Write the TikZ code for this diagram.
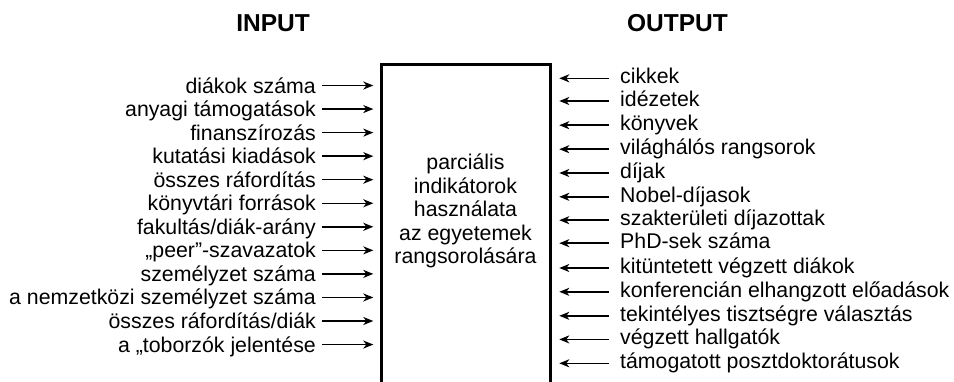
\documentclass[tikz,border=0pt]{standalone}
\usepackage{fontspec}
\setmainfont{Liberation Sans}
\usetikzlibrary{arrows.meta}

\tikzset{
  inlabel/.style={anchor=east,inner xsep=0pt,text height=19.5pt,text depth=4.5pt,
                  font=\fontsize{21.3}{24}\selectfont},
  outlabel/.style={anchor=west,inner xsep=0pt,text height=15.3pt,text depth=4.5pt,
                   font=\fontsize{21.3}{24}\selectfont},
  headline/.style={anchor=base,font=\fontsize{24.5}{29}\selectfont\bfseries},
  inarrow/.style={line width=1.5pt,-{Stealth[length=10pt,width=8pt,inset=3pt]},shorten <=6pt},
  outarrow/.style={line width=1.5pt,-{Stealth[length=10pt,width=8pt,inset=3pt]},shorten <=11pt},
  rankbox/.style={draw,line width=3pt,minimum width=169pt,minimum height=328pt,inner sep=0pt}
}

\begin{document}
\begin{tikzpicture}[x=1pt,y=-1pt]
\useasboundingbox (0,0) rectangle (954,381);

\node[headline] (intitle) at (273,31.7) {INPUT};
\node[headline] (outtitle) at (677.5,31.7) {OUTPUT};

% the ranking box, open at the bottom
\node[rankbox] (rank) at (465.5,228) {};
\node[align=center,font=\fontsize{21.3}{23.5}\selectfont] (ranktext) at (465.5,211)
  {parciális\\indikátorok\\használata\\az egyetemek\\rangsorolására};

\coordinate (inend) at (373.3,0);
\coordinate (outend) at (559.3,0);

\node[inlabel] (i1) at (316,85.5) {diákok száma};
\node[inlabel] (i2) at (316,109.05) {anyagi támogatások};
\node[inlabel] (i3) at (316,132.6) {finanszírozás};
\node[inlabel] (i4) at (316,156.15) {kutatási kiadások};
\node[inlabel] (i5) at (316,179.7) {összes ráfordítás};
\node[inlabel] (i6) at (316,203.25) {könyvtári források};
\node[inlabel] (i7) at (316,226.8) {fakultás/diák-arány};
\node[inlabel] (i8) at (316,250.35) {„peer”-szavazatok};
\node[inlabel] (i9) at (316,273.9) {személyzet száma};
\node[inlabel] (i10) at (316,297.45) {a nemzetközi személyzet száma};
\node[inlabel] (i11) at (316,321) {összes ráfordítás/diák};
\node[inlabel] (i12) at (316,344.55) {a „toborzók jelentése};

\draw[inarrow] (i1.east) -- (i1.east -| inend);
\draw[inarrow] (i2.east) -- (i2.east -| inend);
\draw[inarrow] (i3.east) -- (i3.east -| inend);
\draw[inarrow] (i4.east) -- (i4.east -| inend);
\draw[inarrow] (i5.east) -- (i5.east -| inend);
\draw[inarrow] (i6.east) -- (i6.east -| inend);
\draw[inarrow] (i7.east) -- (i7.east -| inend);
\draw[inarrow] (i8.east) -- (i8.east -| inend);
\draw[inarrow] (i9.east) -- (i9.east -| inend);
\draw[inarrow] (i10.east) -- (i10.east -| inend);
\draw[inarrow] (i11.east) -- (i11.east -| inend);
\draw[inarrow] (i12.east) -- (i12.east -| inend);

\node[outlabel] (o1) at (620,78.3) {cikkek};
\node[outlabel] (o2) at (620,101) {idézetek};
\node[outlabel] (o3) at (620,125.2) {könyvek};
\node[outlabel] (o4) at (620,149.2) {világhálós rangsorok};
\node[outlabel] (o5) at (620,173) {díjak};
\node[outlabel] (o6) at (620,196.8) {Nobel-díjasok};
\node[outlabel] (o7) at (620,220.2) {szakterületi díjazottak};
\node[outlabel] (o8) at (620,243.2) {PhD-sek száma};
\node[outlabel] (o9) at (620,268) {kitüntetett végzett diákok};
\node[outlabel] (o10) at (620,291.8) {konferencián elhangzott előadások};
\node[outlabel] (o11) at (620,315.8) {tekintélyes tisztségre választás};
\node[outlabel] (o12) at (620,339.4) {végzett hallgatók};
\node[outlabel] (o13) at (620,363.3) {támogatott posztdoktorátusok};

\draw[outarrow] (o1.west) -- (o1.west -| outend);
\draw[outarrow] (o2.west) -- (o2.west -| outend);
\draw[outarrow] (o3.west) -- (o3.west -| outend);
\draw[outarrow] (o4.west) -- (o4.west -| outend);
\draw[outarrow] (o5.west) -- (o5.west -| outend);
\draw[outarrow] (o6.west) -- (o6.west -| outend);
\draw[outarrow] (o7.west) -- (o7.west -| outend);
\draw[outarrow] (o8.west) -- (o8.west -| outend);
\draw[outarrow] (o9.west) -- (o9.west -| outend);
\draw[outarrow] (o10.west) -- (o10.west -| outend);
\draw[outarrow] (o11.west) -- (o11.west -| outend);
\draw[outarrow] (o12.west) -- (o12.west -| outend);
\draw[outarrow] (o13.west) -- (o13.west -| outend);
\end{tikzpicture}
\end{document}
